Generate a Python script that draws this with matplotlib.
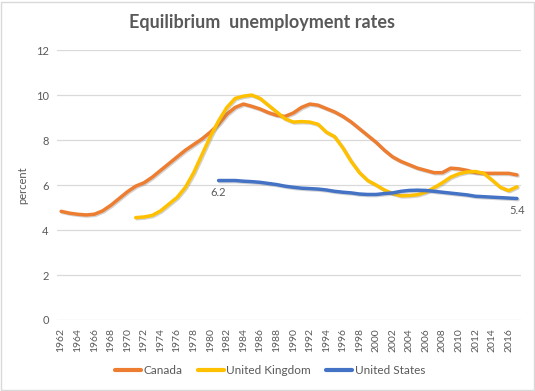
import matplotlib
matplotlib.use("Agg")
import matplotlib.pyplot as plt
import matplotlib.patheffects as pe
import numpy as np

years = list(range(1962, 2018))

canada = [4.83, 4.75, 4.70, 4.67, 4.70, 4.85, 5.10, 5.40, 5.70, 5.95,
          6.10, 6.35, 6.65, 6.95, 7.25, 7.55, 7.80, 8.05, 8.35, 8.70,
          9.15, 9.45, 9.60, 9.50, 9.38, 9.22, 9.10, 9.05, 9.20, 9.45,
          9.60, 9.55, 9.40, 9.25, 9.05, 8.80, 8.50, 8.20, 7.90, 7.55,
          7.25, 7.05, 6.90, 6.75, 6.65, 6.55, 6.55, 6.75, 6.72, 6.65,
          6.55, 6.52, 6.52, 6.52, 6.52, 6.45]

uk_start = 1971
uk = [4.55, 4.58, 4.65, 4.85, 5.15, 5.45, 5.90, 6.55, 7.35, 8.15,
      8.85, 9.45, 9.85, 9.95, 10.00, 9.85, 9.55, 9.25, 8.95, 8.80,
      8.82, 8.80, 8.70, 8.35, 8.15, 7.65, 7.05, 6.55, 6.20, 6.00,
      5.78, 5.62, 5.52, 5.53, 5.57, 5.68, 5.88, 6.10, 6.35, 6.50,
      6.58, 6.60, 6.52, 6.22, 5.90, 5.75, 5.92]

us_start = 1981
us = [6.20, 6.20, 6.20, 6.17, 6.15, 6.12, 6.07, 6.02, 5.95, 5.90,
      5.86, 5.84, 5.82, 5.78, 5.72, 5.68, 5.65, 5.60, 5.58, 5.58,
      5.62, 5.65, 5.72, 5.76, 5.77, 5.76, 5.72, 5.68, 5.64, 5.60,
      5.56, 5.50, 5.48, 5.46, 5.44, 5.42, 5.40]

series = [
    ("Canada", 1962, canada, "#ED7D31"),
    ("United Kingdom", uk_start, uk, "#FFC000"),
    ("United States", us_start, us, "#4472C4"),
]

text_gray = "#595959"
font = ["Lato", "DejaVu Sans"]

fig = plt.figure(figsize=(5.35, 3.91), dpi=100)
ax = fig.add_axes([0.1065, 0.1816, 0.8675, 0.6904])

shadow = [pe.SimpleLineShadow(offset=(0.8, -0.8), shadow_color="gray", alpha=0.35),
          pe.Normal()]

for name, start, vals, color in series:
    x = np.arange(len(vals)) + (start - years[0])
    ax.plot(x, vals, color=color, lw=2.5, label=name,
            solid_capstyle="round", solid_joinstyle="round", path_effects=shadow)

# data labels on first and last US point
us_x0 = us_start - years[0]
ax.annotate(f"{us[0]:.1f}", (us_x0, us[0]), xytext=(0, -5), textcoords="offset points",
            ha="center", va="top", fontsize=8, color=text_gray, family=font)
ax.annotate(f"{us[-1]:.1f}", (len(years) - 1, us[-1]), xytext=(0, -5),
            textcoords="offset points", ha="center", va="top", fontsize=8,
            color=text_gray, family=font)

ax.set_xlim(-0.5, len(years) - 0.5)
ax.set_ylim(0, 12)
ax.set_yticks(range(0, 13, 2))
ax.set_xticks(range(0, len(years), 2))
ax.set_xticklabels([str(y) for y in years[::2]], rotation=90, fontsize=7.5,
                   color=text_gray, family=font)
for lab in ax.get_yticklabels():
    lab.set_fontsize(8)
    lab.set_color(text_gray)
    lab.set_family(font)
ax.tick_params(length=0, pad=6)
ax.grid(axis="y", color="#D9D9D9", lw=0.9)
ax.set_axisbelow(True)
for side in ["top", "right", "left", "bottom"]:
    ax.spines[side].set_visible(False)

ax.set_ylabel("percent", fontsize=8, color=text_gray, family=font, labelpad=5)

fig.text(0.49, 0.942, "Equilibrium  unemployment rates", ha="center", va="center",
         fontsize=13, fontweight="bold", color=text_gray, family=font)

leg = fig.legend(loc="center", bbox_to_anchor=(0.505, 0.052), ncol=3, frameon=False,
                 handlelength=2.2, columnspacing=1.3, handletextpad=0.2,
                 prop={"family": font, "size": 8.5})
for t in leg.get_texts():
    t.set_color(text_gray)
for h in leg.get_lines():
    h.set_linewidth(3)
    h.set_path_effects([])

fig.patches.append(plt.Rectangle((0.002, 0.002), 0.996, 0.994, transform=fig.transFigure,
                                 fill=False, edgecolor="#D9D9D9", lw=1))

fig.savefig("out.png", dpi=100)
